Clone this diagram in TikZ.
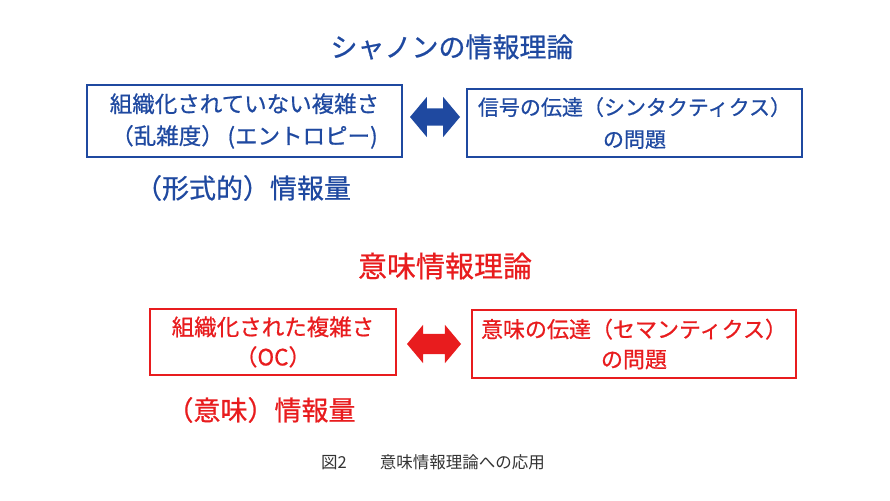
\documentclass[tikz,border=0pt]{standalone}
\usepackage{fontspec}
\setmainfont{Noto Sans CJK JP}[FakeBold=0.7]
\newfontfamily\capfont{Noto Sans CJK JP}
\usepackage{xcolor}
\usetikzlibrary{arrows.meta,positioning,shapes.arrows}
\definecolor{sblue}{RGB}{31,73,160}
\definecolor{sred}{RGB}{232,28,30}

\begin{document}
\begin{tikzpicture}[
  x=1pt, y=-1pt,
  ttl/.style={font=\fontsize{27}{31}\selectfont, inner sep=0pt},
  box/.style={rectangle, draw, line width=1.4pt, align=center, inner sep=0pt, font=\fontsize{22.5}{32}\selectfont},
  amount/.style={font=\fontsize{27}{31}\selectfont, inner sep=0pt},
  darr/.style={double arrow, draw=none, double arrow tip angle=100},
  caption/.style={font=\capfont\fontsize{16.5}{18}\selectfont, inner sep=0pt, text=black!80}
]
  \useasboundingbox (0,0) rectangle (890,500);

  % Shannon
  \node[ttl, text=sblue] (t1) at (452,47) {シャノンの情報理論};
  \node[box, draw=sblue, text=sblue, minimum width=315pt, minimum height=72pt] (b1) at (244.5,121) {組織化されていない複雑さ\\（乱雑度）\,(エントロピー)};
  \node[box, draw=sblue, text=sblue, minimum width=335pt, minimum height=68pt, font=\fontsize{21}{32}\selectfont] (b2) at (634.5,123) {信号の伝達（シンタクティクス）\\の問題};
  \node[darr, fill=sblue, inner sep=8.5pt, double arrow head extend=11.5pt, minimum height=50pt] (a1) at (435,117) {};
  \node[amount, text=sblue] (q1) at (243,188) {（形式的）情報量};

  % semantic
  \node[ttl, text=sred, font=\fontsize{29}{33}\selectfont] (t2) at (445,266) {意味情報理論};
  \node[box, draw=sred, text=sred, minimum width=246pt, minimum height=66pt, font=\fontsize{22.5}{30}\selectfont] (r1) at (273,342) {組織化された複雑さ\\（OC）};
  \node[box, draw=sred, text=sred, minimum width=324pt, minimum height=68pt, font=\fontsize{22}{30}\selectfont] (r2) at (634,344) {意味の伝達（セマンティクス）\\の問題};
  \node[darr, fill=sred, inner sep=10pt, double arrow head extend=9pt, minimum height=54pt] (a2) at (434,344) {};
  \node[amount, text=sred] (q2) at (261,410) {（意味）情報量};

  \node[caption] (c1) at (433,462) {図2\hspace{2em}意味情報理論への応用};
\end{tikzpicture}
\end{document}
